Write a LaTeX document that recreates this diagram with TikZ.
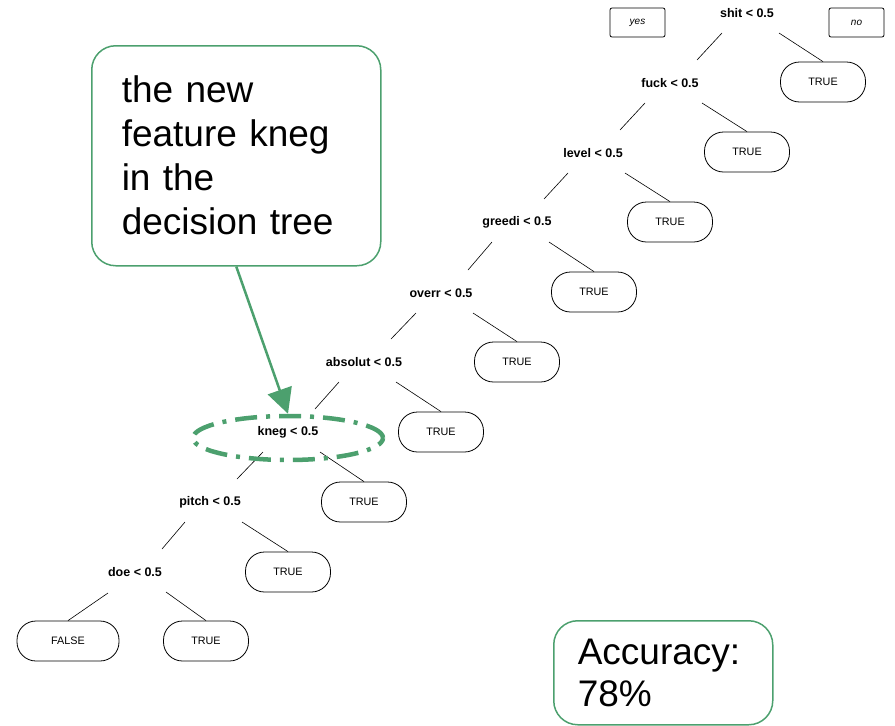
\documentclass[tikz,border=0pt]{standalone}
\usepackage{fontspec}
\setmainfont{Liberation Sans}
\usetikzlibrary{calc,arrows.meta,shapes.geometric}
\definecolor{grn}{RGB}{76,160,110}
\begin{document}
\begin{tikzpicture}[x=1pt,y=-1pt,
  split/.style={font=\fontsize{12.5}{14}\selectfont\bfseries, inner sep=0pt},
  leaf/.style={draw, rounded corners=19pt, minimum width=85pt, minimum height=40pt,
    font=\fontsize{10.8}{12}\selectfont, inner sep=0pt, line width=0.8pt},
  tag/.style={draw, rounded corners=2pt, minimum width=55pt, minimum height=29pt,
    font=\fontsize{10}{12}\selectfont\itshape, inner sep=0pt, line width=0.8pt},
  edge/.style={line width=0.6pt},
  callout/.style={draw=grn, line width=1.5pt, rounded corners=24pt, align=left,
    font=\fontsize{37}{44}\selectfont, inner xsep=30pt, inner ysep=0pt},
  ring/.style={ellipse, draw=grn, line width=4.5pt, minimum width=190pt, minimum height=44pt,
    dash pattern=on 22pt off 9pt on 4pt off 9pt},
  pointer/.style={grn, line width=2.5pt, -{Triangle[length=25pt,width=25pt]}}
]
\useasboundingbox (0,0) rectangle (895,726);

% tags
\node[tag] (yes) at (637.5,22.5) {yes};
\node[tag] (no) at (856.5,22.5) {no};

% split nodes
\node[split] (s1) at (747,13) {shit < 0.5};
\node[split] (s2) at (670,83) {fuck < 0.5};
\node[split] (s3) at (593,153) {level < 0.5};
\node[split] (s4) at (517,222) {greedi < 0.5};
\node[split] (s5) at (441,293) {overr < 0.5};
\node[split] (s6) at (364,362) {absolut < 0.5};
\node[split] (s7) at (288,432) {kneg < 0.5};
\node[split] (s8) at (210,502) {pitch < 0.5};
\node[split] (s9) at (135,572) {doe < 0.5};

% leaves
\node[leaf] (t1) at (823,82) {TRUE};
\node[leaf] (t2) at (747,152) {TRUE};
\node[leaf] (t3) at (670,222) {TRUE};
\node[leaf] (t4) at (594,292) {TRUE};
\node[leaf] (t5) at (517,362) {TRUE};
\node[leaf] (t6) at (441,432) {TRUE};
\node[leaf] (t7) at (364,502) {TRUE};
\node[leaf] (t8) at (288,572) {TRUE};
\node[leaf] (t9) at (206,641) {TRUE};
\node[leaf, minimum width=102pt] (f) at (68,641) {FALSE};

% edges
\foreach \p/\c/\t in {s1/s2/t1, s2/s3/t2, s3/s4/t3, s4/s5/t4, s5/s6/t5, s6/s7/t6, s7/s8/t7, s8/s9/t8}{
  \draw[edge] ($(\p)+(-25,20)$) -- ($(\c)+(27,-23)$);
  \draw[edge] ($(\p)+(32,20)$) -- (\t.north);
}
\draw[edge] ($(s9)+(-27,21)$) -- (f.north);
\draw[edge] ($(s9)+(31,20)$) -- (t9.north);

% annotations
\node[callout, anchor=north west, minimum width=289pt, minimum height=220pt, text width=229pt] (note) at (91,45)
  {the new\\feature kneg\\in the\\decision tree};
\node[ring] (ring) at (288,438) {};
\draw[pointer] (note.south) -- (ring.north);

\node[callout, anchor=north west, minimum width=219pt, minimum height=104pt, text width=171pt,
  inner xsep=24pt, font=\fontsize{37}{42}\selectfont] (acc) at (553,620) {Accuracy:\\78\%};
\end{tikzpicture}
\end{document}
